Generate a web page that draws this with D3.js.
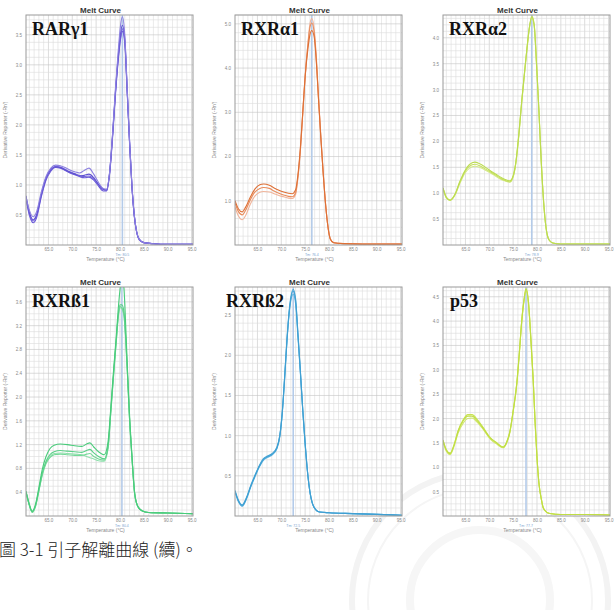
<!DOCTYPE html>
<html lang="zh-Hant">
<head>
<meta charset="UTF-8">
<title>Melt Curve</title>
<script src="https://d3js.org/d3.v7.min.js"></script>
<style>
    body { margin: 0; background: #fff; }
    svg { display: block; }
    .axis text { font-family: "Liberation Sans", Arial, sans-serif; fill: #888; }
    .title { font-family: "Liberation Sans", Arial, sans-serif; font-weight: bold; font-size: 8px; fill: #333; }
    .ylab, .xlab { font-family: "Liberation Sans", Arial, sans-serif; font-size: 5px; fill: #888; }
    .tm { font-family: "Liberation Sans", Arial, sans-serif; font-size: 3.5px; fill: #7a9fd0; }
    .gene { font-family: "Liberation Serif", "Times New Roman", serif; font-weight: bold; font-size: 18px; fill: #111; }
    .caption { font-family: "Noto Sans CJK TC", sans-serif; font-size: 17px; font-weight: 300; fill: #222; }
</style>
</head>
<body>
<div id="chart"></div>
<script>
// gene names, Tm and axis labels
const geneNames = ["RARγ1", "RXRα1", "RXRα2", "RXRß1", "RXRß2", "p53"];
const tmValues = [80.5, 76.4, 78.9, 80.4, 72.5, 77.7];
const xTicks = [65, 70, 75, 80, 85, 90, 95];
const xDomain = [60.3, 95.3];

const yTicks1 = [0.5, 1.0, 1.5, 2.0, 2.5, 3.0, 3.5];
const yTicks2 = [1.0, 2.0, 3.0, 4.0, 5.0];
const yTicks3 = [0.5, 1.0, 1.5, 2.0, 2.5, 3.0, 3.5, 4.0];
const yTicks4 = [0.4, 0.8, 1.2, 1.6, 2.0, 2.4, 2.8, 3.2, 3.6];
const yTicks5 = [0.5, 1.0, 1.5, 2.0, 2.5];
const yTicks6 = [0.5, 1.0, 1.5, 2.0, 2.5, 3.0, 3.5, 4.0, 4.5];
const yMaxes = [3.83, 5.2, 4.44, 3.85, 2.85, 4.7];
const yMinorSteps = [0.125, 0.2, 0.125, 0.1, 0.1, 0.125];

// RARγ1
const temps1 = [60.3, 61.0, 61.8, 62.5, 63.5, 64.5, 65.5, 66.5, 67.5, 68.5, 69.5, 70.5, 71.5, 72.5, 73.5, 74.5, 75.5, 76.5, 77.2, 77.8, 78.5, 79.0, 79.6, 80.1, 80.5, 81.0, 81.5, 82.0, 82.5, 83.0, 83.5, 84.0, 85.0, 87.0, 90.0, 95.3];
const rarA = [0.80,0.58,0.47,0.55,0.88,1.14,1.28,1.33,1.32,1.29,1.25,1.22,1.20,1.24,1.28,1.18,1.04,0.94,0.93,1.20,1.92,2.55,3.20,3.65,3.80,3.50,2.62,1.75,1.00,0.50,0.22,0.10,0.04,0.02,0.01,0.01];
const rarB = [0.78,0.52,0.40,0.48,0.82,1.10,1.25,1.31,1.30,1.26,1.22,1.19,1.16,1.14,1.15,1.10,1.00,0.92,0.91,1.18,1.88,2.48,3.08,3.45,3.60,3.40,2.58,1.72,0.98,0.48,0.21,0.10,0.04,0.02,0.01,0.01];
const rarC = [0.76,0.50,0.37,0.45,0.80,1.08,1.23,1.29,1.28,1.24,1.20,1.17,1.14,1.12,1.13,1.08,0.98,0.90,0.90,1.16,1.85,2.45,3.05,3.42,3.56,3.36,2.55,1.70,0.97,0.48,0.21,0.09,0.04,0.02,0.01,0.01];
const rarD = [0.82,0.55,0.42,0.50,0.84,1.12,1.26,1.30,1.29,1.25,1.21,1.18,1.15,1.16,1.18,1.12,1.01,0.93,0.92,1.19,1.90,2.50,3.12,3.52,3.66,3.44,2.60,1.73,0.99,0.49,0.22,0.10,0.04,0.02,0.01,0.01];

// RXRα1
const temps2 = [60.3, 61.0, 61.8, 62.5, 63.5, 64.5, 65.5, 66.3, 67.5, 68.5, 69.5, 70.5, 71.5, 72.3, 73.0, 73.5, 74.0, 74.5, 75.0, 75.6, 76.0, 76.4, 76.9, 77.4, 77.8, 78.3, 78.8, 79.3, 79.8, 80.3, 81.0, 83.0, 87.0, 95.3];
const ra1A = [1.00,0.82,0.75,0.85,1.08,1.27,1.36,1.38,1.35,1.29,1.24,1.20,1.17,1.16,1.25,1.60,2.20,3.00,3.80,4.45,4.75,4.85,4.70,4.05,3.30,2.40,1.60,0.90,0.40,0.13,0.05,0.03,0.02,0.02];
const ra1B = [0.95,0.76,0.68,0.78,1.02,1.20,1.28,1.30,1.28,1.22,1.17,1.13,1.10,1.09,1.18,1.55,2.15,2.98,3.82,4.55,4.92,5.02,4.80,4.10,3.32,2.42,1.60,0.90,0.40,0.13,0.05,0.03,0.02,0.02];
const ra1C = [0.86,0.66,0.57,0.66,0.92,1.11,1.19,1.21,1.20,1.16,1.12,1.09,1.06,1.05,1.14,1.52,2.12,2.95,3.80,4.58,5.00,5.12,4.88,4.15,3.35,2.45,1.62,0.91,0.40,0.13,0.05,0.03,0.02,0.02];

// RXRα2
const temps3 = [60.3, 61.0, 61.8, 62.8, 63.8, 64.8, 65.8, 67.0, 68.2, 69.5, 70.8, 72.0, 73.2, 74.3, 75.0, 75.6, 76.2, 76.8, 77.4, 77.9, 78.4, 78.9, 79.4, 79.9, 80.4, 80.9, 81.4, 81.9, 82.5, 83.3, 85.0, 90.0, 95.3];
const ra2A = [1.10,0.92,0.87,0.98,1.22,1.42,1.55,1.60,1.56,1.48,1.40,1.33,1.27,1.24,1.34,1.62,2.15,2.78,3.35,3.80,4.20,4.40,4.25,3.50,2.60,1.60,0.82,0.33,0.10,0.04,0.02,0.02,0.02];
const ra2B = [1.09,0.91,0.86,0.96,1.18,1.37,1.48,1.52,1.49,1.43,1.36,1.29,1.24,1.21,1.31,1.60,2.12,2.75,3.32,3.78,4.18,4.38,4.23,3.48,2.58,1.58,0.81,0.33,0.10,0.04,0.02,0.02,0.02];
const ra2C = [1.10,0.92,0.86,0.97,1.20,1.40,1.52,1.56,1.52,1.45,1.38,1.31,1.25,1.22,1.32,1.61,2.13,2.77,3.34,3.79,4.19,4.42,4.27,3.52,2.60,1.60,0.82,0.33,0.10,0.04,0.02,0.02,0.02];

// RXRß1
const temps4 = [60.3, 61.0, 61.6, 62.3, 63.0, 63.7, 64.5, 65.3, 66.2, 67.5, 69.0, 70.5, 72.0, 73.0, 73.7, 74.5, 75.5, 76.7, 77.5, 78.1, 78.7, 79.2, 79.6, 80.0, 80.4, 80.8, 81.2, 81.6, 82.0, 82.5, 83.1, 83.8, 84.6, 86.0, 90.0, 95.3];
const rb1A = [0.42,0.20,0.08,0.20,0.48,0.78,1.00,1.13,1.19,1.21,1.20,1.18,1.17,1.21,1.23,1.16,1.08,1.03,1.25,1.85,2.50,3.00,3.45,3.80,4.00,3.85,3.20,2.40,1.70,1.03,0.37,0.15,0.09,0.06,0.05,0.04];
const rb1B = [0.40,0.18,0.07,0.18,0.44,0.72,0.92,1.03,1.08,1.10,1.09,1.08,1.07,1.10,1.12,1.06,1.00,0.96,1.18,1.80,2.45,2.95,3.35,3.55,3.55,3.45,3.00,2.35,1.65,1.00,0.36,0.15,0.09,0.06,0.05,0.04];
const rb1C = [0.40,0.18,0.06,0.16,0.42,0.68,0.88,0.98,1.03,1.04,1.03,1.02,1.02,1.04,1.05,1.00,0.96,0.94,1.15,1.78,2.42,2.93,3.33,3.52,3.50,3.40,2.98,2.33,1.63,0.99,0.36,0.15,0.09,0.06,0.05,0.04];
const rb1D = [0.41,0.19,0.07,0.17,0.43,0.70,0.90,1.00,1.05,1.06,1.05,1.04,1.03,1.00,0.98,0.96,0.93,0.92,1.13,1.76,2.40,2.90,3.30,3.50,3.48,3.38,2.95,2.30,1.62,0.98,0.35,0.15,0.09,0.06,0.05,0.04];

// RXRß2
const temps5 = [60.3, 61.0, 61.8, 62.7, 63.6, 64.5, 65.4, 66.2, 67.2, 68.1, 69.1, 69.7, 70.2, 70.7, 71.2, 71.8, 72.5, 73.0, 73.5, 74.0, 74.5, 75.0, 75.5, 76.0, 76.5, 77.2, 78.0, 80.0, 85.0, 90.0, 95.3];
const rb2A = [0.31,0.19,0.13,0.22,0.37,0.50,0.62,0.70,0.74,0.77,0.85,1.00,1.28,1.72,2.20,2.62,2.80,2.68,2.25,1.80,1.32,0.90,0.55,0.30,0.16,0.08,0.05,0.04,0.03,0.02,0.01];
const rb2B = [0.30,0.18,0.12,0.21,0.36,0.49,0.61,0.69,0.73,0.76,0.84,0.99,1.27,1.70,2.18,2.60,2.76,2.64,2.22,1.78,1.31,0.89,0.54,0.30,0.16,0.08,0.05,0.04,0.03,0.02,0.01];
const rb2C = [0.32,0.20,0.14,0.23,0.38,0.51,0.63,0.71,0.75,0.78,0.86,1.01,1.29,1.73,2.21,2.64,2.82,2.70,2.27,1.81,1.33,0.91,0.55,0.30,0.16,0.08,0.05,0.04,0.03,0.02,0.01];

// p53
const temps6 = [60.3, 61.0, 61.8, 62.6, 63.5, 64.5, 65.5, 66.4, 67.5, 68.7, 70.2, 71.5, 72.9, 73.6, 74.3, 75.0, 75.8, 76.3, 76.8, 77.3, 77.7, 78.2, 78.7, 79.2, 79.6, 80.0, 80.4, 80.9, 81.3, 82.0, 82.7, 85.0, 90.0, 95.3];
const p53A = [1.55,1.35,1.28,1.45,1.75,1.95,2.05,2.05,1.95,1.80,1.60,1.50,1.41,1.50,1.72,2.15,2.75,3.35,4.00,4.45,4.66,4.40,3.66,2.80,1.93,1.20,0.68,0.35,0.17,0.08,0.05,0.03,0.03,0.02];
const p53B = [1.52,1.33,1.26,1.42,1.71,1.90,2.00,2.01,1.92,1.78,1.58,1.48,1.40,1.49,1.70,2.13,2.73,3.33,3.98,4.42,4.62,4.37,3.64,2.78,1.92,1.19,0.67,0.35,0.17,0.08,0.05,0.03,0.03,0.02];
const p53C = [1.56,1.36,1.29,1.46,1.76,1.97,2.08,2.08,1.98,1.82,1.61,1.51,1.42,1.51,1.73,2.16,2.76,3.36,4.01,4.46,4.67,4.41,3.67,2.81,1.94,1.21,0.68,0.35,0.17,0.08,0.05,0.03,0.03,0.02];

const captionText = "圖 3-1 引子解離曲線 (續)。";

const panels = [
    { temps: temps1, reps: [rarC, rarB, rarD, rarA], yTicks: yTicks1, colors: ["#6a5ad8", "#7666dc", "#5e50d0", "#8c80e0"] },
    { temps: temps2, reps: [ra1C, ra1B, ra1A], yTicks: yTicks2, colors: ["#f0b49a", "#e98c5c", "#de7036"] },
    { temps: temps3, reps: [ra2B, ra2C, ra2A], yTicks: yTicks3, colors: ["#d6ea8a", "#c6e060", "#bcdc50"] },
    { temps: temps4, reps: [rb1D, rb1C, rb1B, rb1A], yTicks: yTicks4, colors: ["#8ee0ac", "#74d898", "#5ad088", "#48cc7a"] },
    { temps: temps5, reps: [rb2B, rb2C, rb2A], yTicks: yTicks5, colors: ["#5cb4e0", "#4aa8d8", "#3f9fd2"] },
    { temps: temps6, reps: [p53B, p53C, p53A], yTicks: yTicks6, colors: ["#d2e870", "#c8e250", "#c0de44"] }
];

const W = 615, H = 610;
const colLeft = [26, 235, 443];
const rowTop = [15, 287];
const rowHeight = [230, 229];
const plotW = 167;
const geneDx = [6, 6, 6, 6, -9, 7];

const svg = d3.select("#chart")
    .append("svg")
    .attr("width", W)
    .attr("height", H);

svg.append("rect").attr("width", W).attr("height", H).attr("fill", "#fff");

// faint seal watermark, bottom right
const seal = svg.append("g").attr("transform", "translate(480,600)").attr("fill", "none");
seal.append("circle").attr("r", 128).attr("stroke", "#f3f3f3").attr("stroke-width", 6);
seal.append("circle").attr("r", 112).attr("stroke", "#f5f5f5").attr("stroke-width", 2);
seal.append("circle").attr("r", 70).attr("stroke", "#f6f6f6").attr("stroke-width", 8);

const fmt = d3.format(".1f");

panels.forEach((p, i) => {
    const col = i % 3, row = Math.floor(i / 3);
    const left = colLeft[col], top = rowTop[row], h = rowHeight[row];

    const x = d3.scaleLinear().domain(xDomain).range([0, plotW]);
    const y = d3.scaleLinear().domain([0, yMaxes[i]]).range([h, 0]);

    const g = svg.append("g").attr("transform", `translate(${left},${top})`);

    g.append("rect").attr("width", plotW).attr("height", h).attr("fill", "#fff");

    // grid: 1 degree verticals, minor horizontals
    g.append("g")
        .selectAll("line")
        .data(d3.range(61, 95.3, 1))
        .join("line")
        .attr("x1", d => x(d)).attr("x2", d => x(d))
        .attr("y1", 0).attr("y2", h)
        .attr("stroke", d => d % 5 === 0 ? "#c4c4c4" : "#dcdcdc")
        .attr("stroke-width", 0.6);

    const step = yMinorSteps[i];
    const yGrid = d3.range(1, Math.floor(yMaxes[i] / step + 1e-6) + 1).map(k => k * step);
    g.append("g")
        .selectAll("line")
        .data(yGrid)
        .join("line")
        .attr("x1", 0).attr("x2", plotW)
        .attr("y1", d => y(d)).attr("y2", d => y(d))
        .attr("stroke", d => p.yTicks.some(t => Math.abs(t - d) < 1e-6) ? "#c4c4c4" : "#dcdcdc")
        .attr("stroke-width", 0.6);

    // Tm line
    g.append("line")
        .attr("x1", x(tmValues[i])).attr("x2", x(tmValues[i]))
        .attr("y1", 0).attr("y2", h)
        .attr("stroke", "#b4cbe9")
        .attr("stroke-width", 1.6);

    g.append("clipPath")
        .attr("id", "clip" + i)
        .append("rect")
        .attr("width", plotW).attr("height", h);

    const line = d3.line()
        .x(d => x(d[0]))
        .y(d => y(d[1]))
        .curve(d3.curveMonotoneX);

    g.append("g")
        .attr("clip-path", `url(#clip${i})`)
        .selectAll("path")
        .data(p.reps)
        .join("path")
        .attr("d", vals => line(p.temps.map((t, k) => [t, vals[k]])))
        .attr("fill", "none")
        .attr("stroke", (d, k) => p.colors[k])
        .attr("stroke-width", 1.1);

    g.append("rect")
        .attr("width", plotW).attr("height", h)
        .attr("fill", "none")
        .attr("stroke", "#9a9a9a")
        .attr("stroke-width", 1);

    // axes
    const ya = g.append("g")
        .attr("class", "axis")
        .call(d3.axisLeft(y).tickValues(p.yTicks).tickSize(0).tickPadding(4).tickFormat(fmt));
    ya.select(".domain").remove();
    ya.selectAll("text").attr("font-size", 4.5);

    const xa = g.append("g")
        .attr("class", "axis")
        .attr("transform", `translate(0,${h})`)
        .call(d3.axisBottom(x).tickValues(xTicks).tickSize(0).tickPadding(3).tickFormat(fmt));
    xa.select(".domain").remove();
    xa.selectAll("text").attr("font-size", 4.5);

    g.append("text")
        .attr("class", "title")
        .attr("x", plotW / 2 - 9)
        .attr("y", -2.5)
        .attr("text-anchor", "middle")
        .text("Melt Curve");

    g.append("text")
        .attr("class", "ylab")
        .attr("transform", `translate(-19,${h / 2}) rotate(-90)`)
        .attr("text-anchor", "middle")
        .text("Derivative Reporter (-Rn')");

    g.append("text")
        .attr("class", "tm")
        .attr("x", x(tmValues[i]))
        .attr("y", h + 11)
        .attr("text-anchor", "middle")
        .text("Tm: " + tmValues[i].toFixed(1));

    g.append("text")
        .attr("class", "xlab")
        .attr("x", plotW / 2 - 4)
        .attr("y", h + 16)
        .attr("text-anchor", "middle")
        .text("Temperature (°C)");

    g.append("text")
        .attr("class", "gene")
        .attr("x", geneDx[i])
        .attr("y", 20)
        .text(geneNames[i]);
});

svg.append("text")
    .attr("class", "caption")
    .attr("x", -1)
    .attr("y", 556)
    .text(captionText);
</script>
</body>
</html>
